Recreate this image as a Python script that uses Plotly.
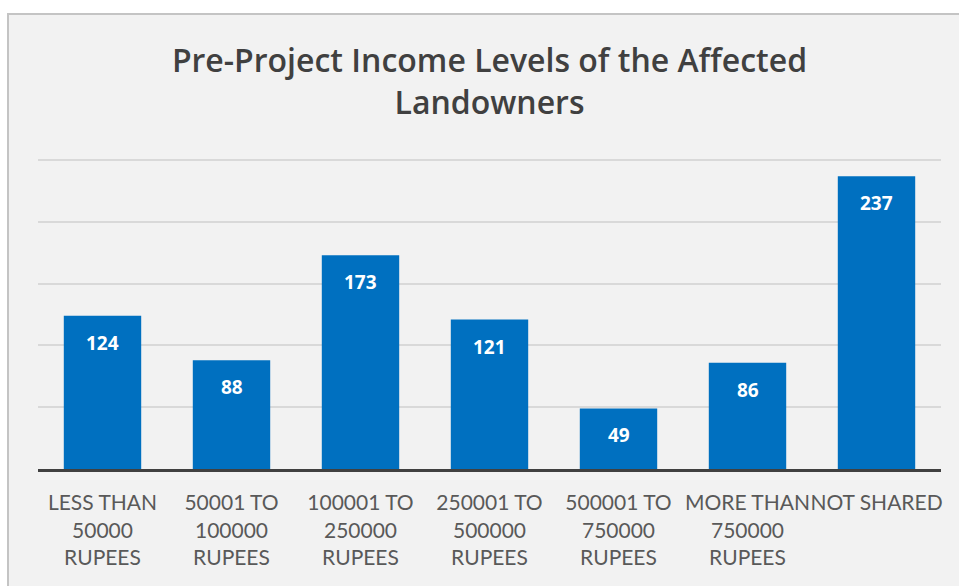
import plotly.graph_objects as go

categories = ["LESS THAN<br>50000<br>RUPEES", "50001 TO<br>100000<br>RUPEES", "100001 TO<br>250000<br>RUPEES",
              "250001 TO<br>500000<br>RUPEES", "500001 TO<br>750000<br>RUPEES", "MORE THAN<br>750000<br>RUPEES",
              "NOT SHARED"]
values = [124, 88, 173, 121, 49, 86, 237]
title_text = "Pre-Project Income Levels of the Affected<br>Landowners"

W, H = 959, 586
L, R, T, B = 38, 18, 159, 117

fig = go.Figure()
fig.add_trace(go.Bar(x=categories, y=values, marker=dict(color="#0070C0", line=dict(width=0)),
                     width=0.6, hoverinfo="skip"))

for c, v in zip(categories, values):
    fig.add_annotation(x=c, y=v, yshift=-27, text=f"<b>{v}</b>", showarrow=False,
                       font=dict(family="Open Sans", size=19, color="white"), yanchor="middle")

pw, ph = W - L - R, H - T - B
fig.add_shape(type="rect", xref="paper", yref="paper",
              x0=(8 - L) / pw, x1=1 + 40 / pw, y0=-1, y1=1 + (T - 14) / ph,
              fillcolor="#f2f2f2", line=dict(color="#c4c4c4", width=2), layer="below")

fig.update_layout(
    width=W, height=H,
    margin=dict(l=L, r=R, t=T, b=B, pad=0),
    paper_bgcolor="white", plot_bgcolor="rgba(0,0,0,0)",
    title=dict(text=title_text, x=0.5, xref="paper", xanchor="center",
               y=1 - 72 / H, yref="container", yanchor="top",
               font=dict(family="Open Sans", size=32, color="#404040", weight=600)),
    showlegend=False,
    bargap=0.4,
)
fig.update_xaxes(showline=True, linecolor="#404040", linewidth=3, ticks="", tickangle=0, automargin=False,
                 ticklabelstandoff=13,
                 tickfont=dict(family="Lato", size=21, color="#595959"), showgrid=False)
fig.update_yaxes(range=[0, 251], tickvals=[50, 100, 150, 200, 250], showticklabels=False,
                 gridcolor="#d9d9d9", gridwidth=2, zeroline=False, ticks="", automargin=False)

fig.write_html("out.html", config={"displayModeBar": False},
               post_script="document.body.style.margin='0';")
